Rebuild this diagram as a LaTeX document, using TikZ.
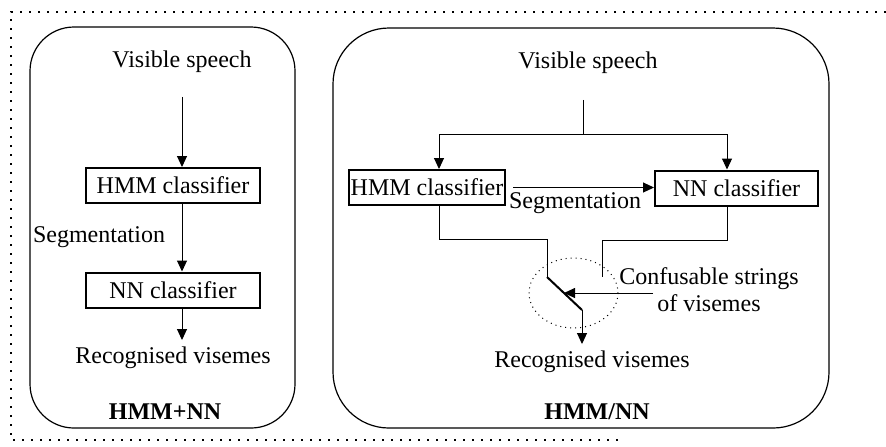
\documentclass[tikz,border=0pt]{standalone}
\usepackage{fontspec}
\setmainfont{Liberation Serif}
\usetikzlibrary{arrows.meta, positioning}

\begin{document}
\begin{tikzpicture}[x=0.5pt, y=-0.5pt,
    font=\fontsize{12}{13.5}\selectfont,
    box/.style={draw, line width=1pt, minimum height=17.5pt, inner sep=0pt},
    panel/.style={draw, line width=0.6pt},
    wire/.style={line width=0.5pt},
    arr/.style={wire, -{Triangle[width=5pt,length=5.5pt]}},
    title/.style={font=\fontsize{12}{13.5}\selectfont\bfseries}]

    \useasboundingbox (0,0) rectangle (886,446);

    % outer frame
    \draw[line width=1pt, dash pattern=on 1pt off 3.5pt]
        (886,12) -- (11,12) -- (11,440) -- (620,440);

    % HMM+NN
    \draw[panel, rounded corners=22pt] (30,27) rectangle (295,428);
    \node (vsA) at (182,62) {Visible speech};
    \node[box, minimum width=87pt] (hmmA) at (173,185.5) {HMM classifier};
    \node[box, minimum width=87pt] (nnA) at (173,290) {NN classifier};
    \node (segA) at (99,237) {Segmentation};
    \node (recA) at (173,358) {Recognised visemes};
    \node[title] (nameA) at (165,412) {HMM+NN};

    \draw[arr] ([yshift=-8.5pt]vsA.south) -- (vsA.south |- hmmA.north);
    \draw[arr] (vsA.south |- hmmA.south) -- (vsA.south |- nnA.north);
    \draw[arr] (vsA.south |- nnA.south) -- (vsA.south |- recA.north);

    % HMM/NN
    \draw[panel, rounded corners=28pt] (333,28) rectangle (829,428);
    \node (vsB) at (588,63) {Visible speech};
    \node[box, minimum width=78pt] (hmmB) at (427,187.5) {HMM classifier};
    \node[box, minimum width=81.5pt] (nnB) at (736.5,188) {NN classifier};
    \node (segB) at (575,203) {Segmentation};
    \node[align=center] (conf) at (709,290) {Confusable strings\\of visemes};
    \node (recB) at (592,362) {Recognised visemes};
    \node[title] (nameB) at (597,412) {HMM/NN};

    \coordinate (split) at (583,134);
    \coordinate (kneeA) at (547,277);
    \coordinate (kneeB) at (582,310);
    \coordinate (confin) at (653,293);

    \draw[wire] ([yshift=-9.5pt]vsB.south -| split) -- (split);
    \draw[arr] (split) -| ([xshift=6pt]hmmB.north);
    \draw[arr] (split) -| ([xshift=-4.75pt]nnB.north);
    \draw[arr] ([xshift=3.5pt]hmmB.east) -- (nnB.west |- hmmB.east);

    \draw[wire] ([xshift=6pt]hmmB.south) |- (547,239) -- (kneeA);
    \draw[line width=1pt] (kneeA) -- (kneeB);
    \draw[arr] (kneeB) -- (kneeB |- recB.north);
    \draw[wire] ([xshift=-4.75pt]nnB.south) |- (602,240) -- (602,277);
    \draw[arr] (confin) -- (564,293);
    \draw[dotted, line width=0.5pt] (573.5,293) ellipse [x radius=44.5, y radius=35];
\end{tikzpicture}
\end{document}
